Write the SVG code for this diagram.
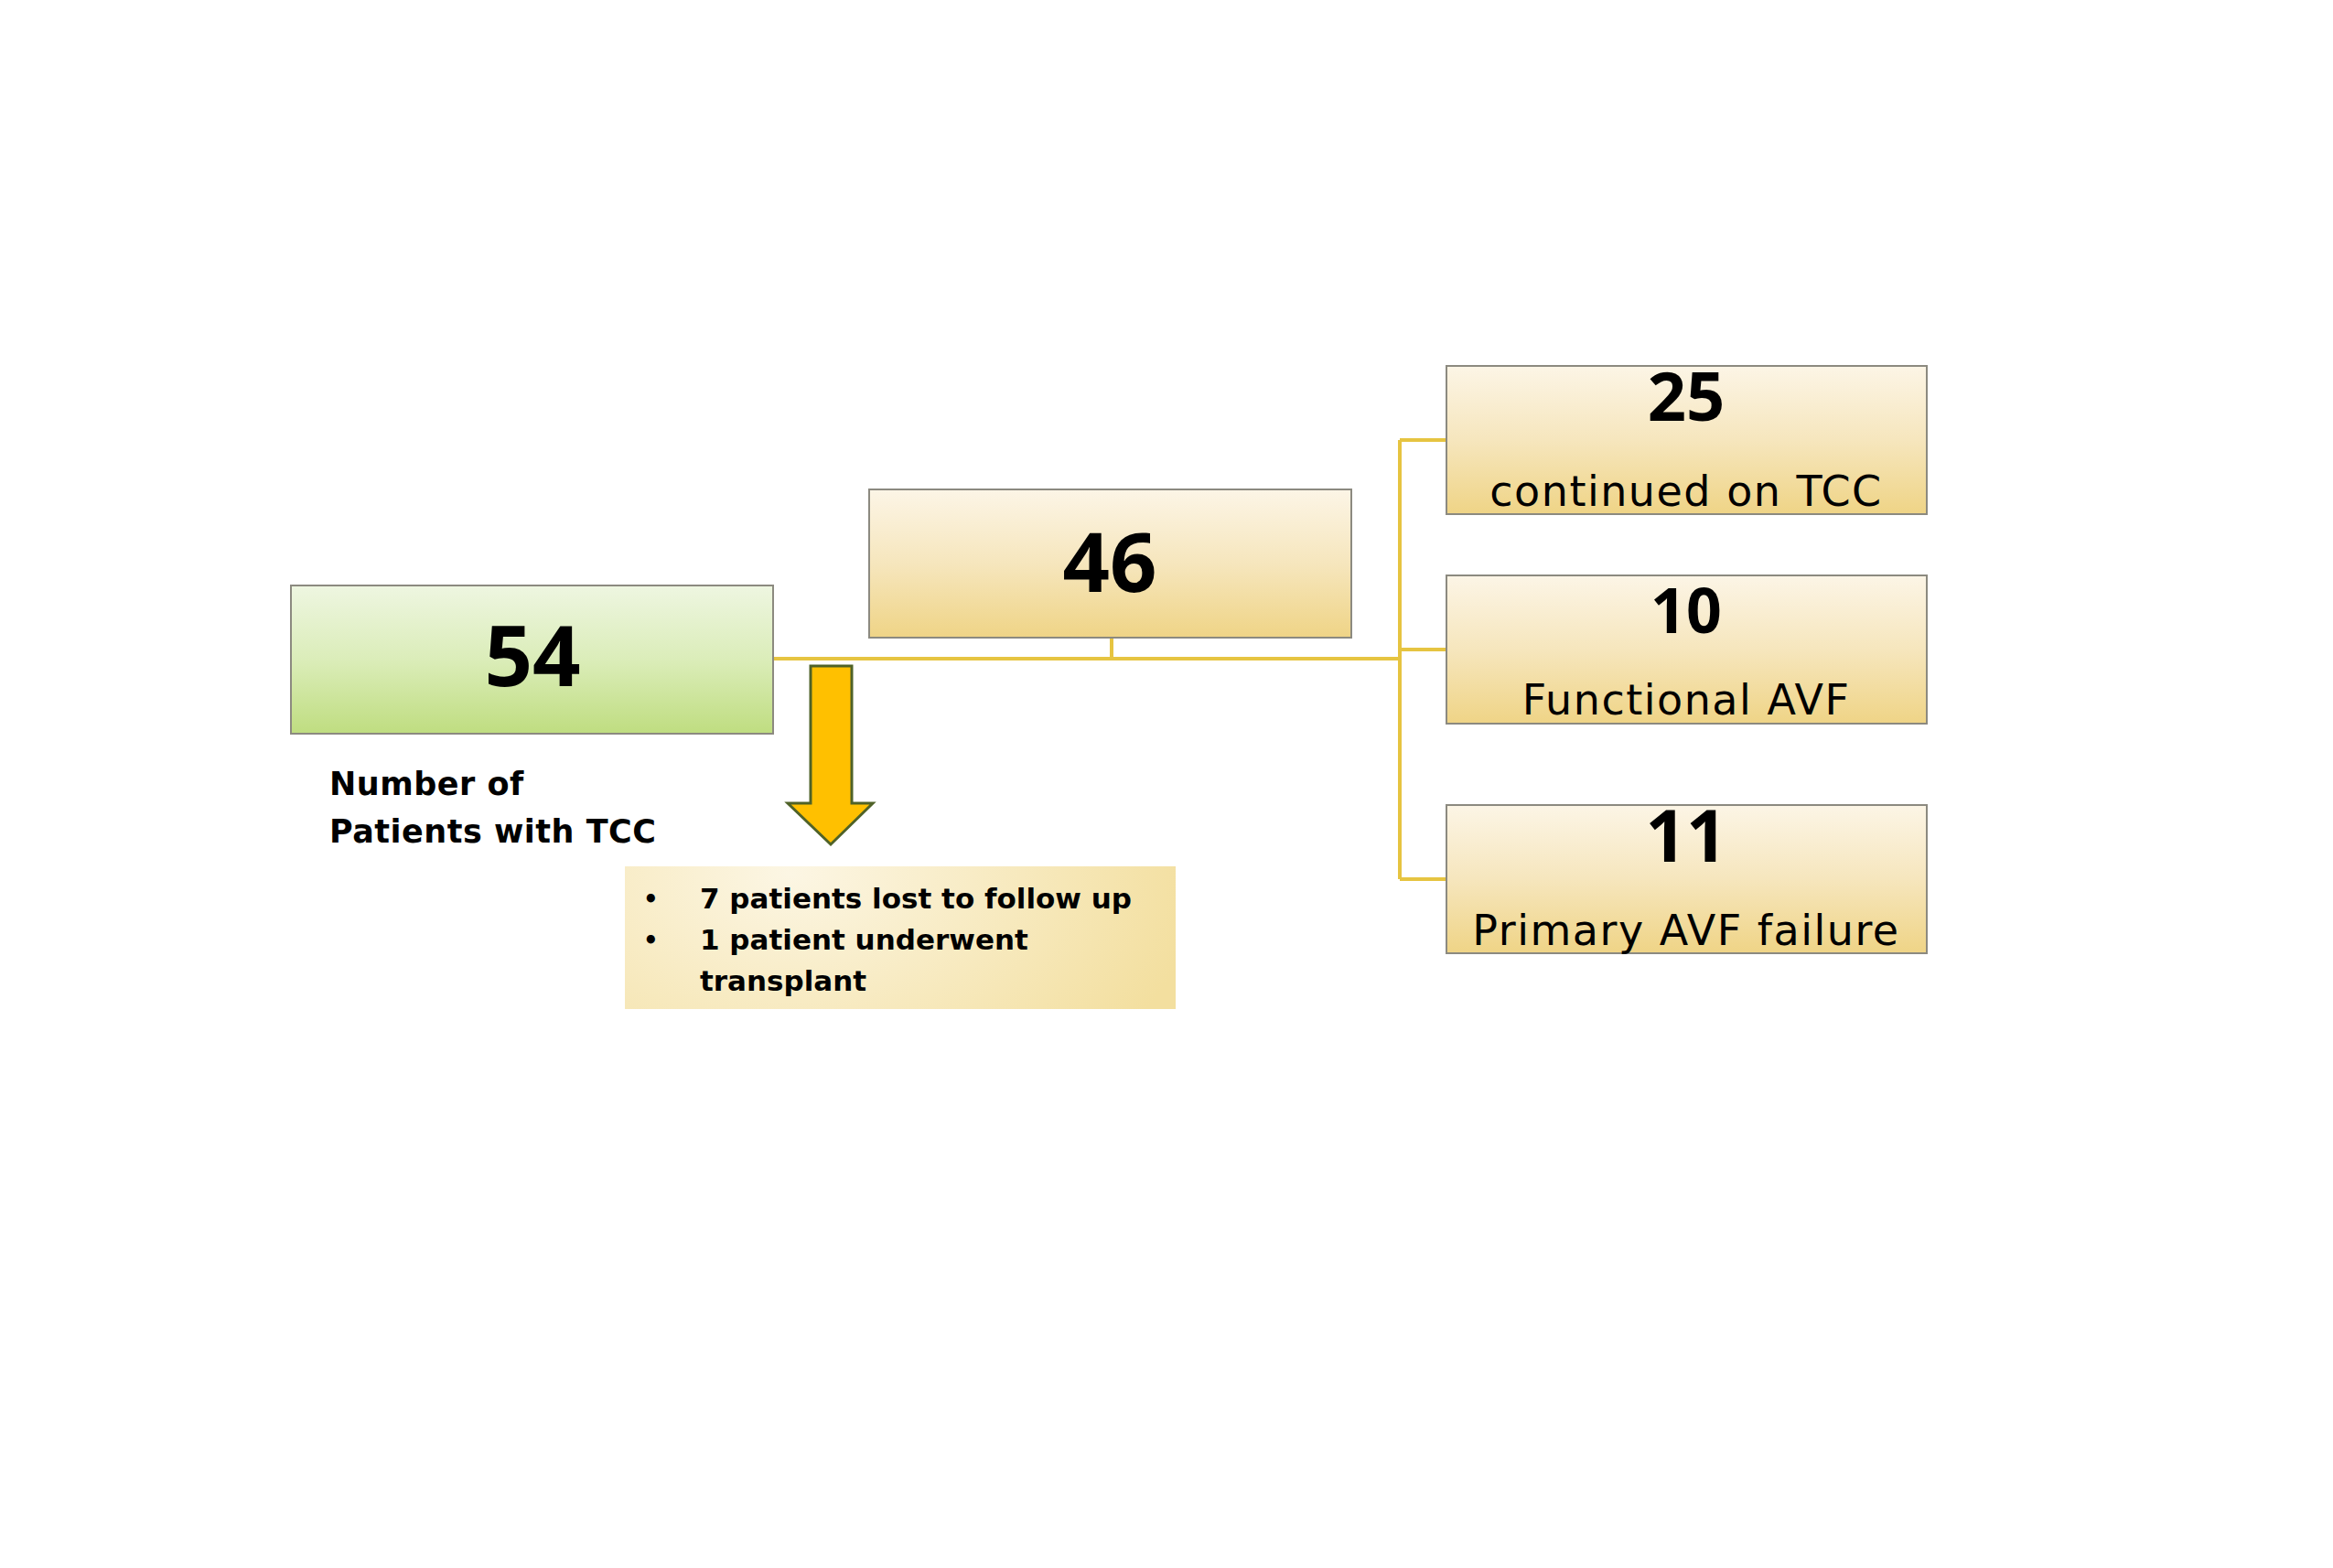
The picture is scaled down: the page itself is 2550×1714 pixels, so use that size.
<svg xmlns="http://www.w3.org/2000/svg" width="2550" height="1714" viewBox="0 0 2550 1714">
<defs>
<linearGradient id="gold" x1="0" y1="0" x2="0" y2="1">
<stop offset="0" stop-color="#fcf5e6"/>
<stop offset="0.5" stop-color="#f6e6bd"/>
<stop offset="1" stop-color="#efd486"/>
</linearGradient>
<linearGradient id="green" x1="0" y1="0" x2="0" y2="1">
<stop offset="0" stop-color="#eef6e1"/>
<stop offset="0.5" stop-color="#dbedb9"/>
<stop offset="1" stop-color="#bfdd80"/>
</linearGradient>
<radialGradient id="note" cx="0.3" cy="0.05" r="0.75" gradientTransform="translate(0.3 0.05) scale(1 2.5) translate(-0.3 -0.05)">
<stop offset="0" stop-color="#fcf6e4"/>
<stop offset="1" stop-color="#f3df9f"/>
</radialGradient>
<style>
.box{stroke:#8c8a80;stroke-width:2}
.conn{stroke:#e6c441;stroke-width:4;fill:none}
.num{font-family:"Noto Sans","DejaVu Sans",sans-serif;font-weight:700;text-anchor:middle;fill:#000}
.lbl{font-family:"DejaVu Sans","Noto Sans",sans-serif;font-size:46px;letter-spacing:1.5px;text-anchor:middle;fill:#000}
.bold{font-family:"DejaVu Sans","Noto Sans",sans-serif;font-weight:700;fill:#000}
</style>
</defs>
<rect width="2550" height="1714" fill="#fff"/>
<g id="connectors">
<path class="conn" d="M845 720 H1530"/>
<path class="conn" d="M1215 697 V720"/>
<path class="conn" d="M1530 481 V961"/>
<path class="conn" d="M1530 481 H1581"/>
<path class="conn" d="M1530 710 H1581"/>
<path class="conn" d="M1530 961 H1581"/>
<polygon id="down-arrow" points="886,728 931,728 931,878 954,878 908,923 861,878 886,878" fill="#ffc000" stroke="#4f6228" stroke-width="3" stroke-linejoin="miter"/>
</g>
<g id="node-54">
<rect class="box" x="318" y="640" width="527" height="162" fill="url(#green)"/>
<text class="num" x="582" y="750" font-size="92">54</text>
</g>
<g id="label-54">
<text class="bold" x="360" y="869" font-size="35" letter-spacing="0.5">Number of</text>
<text class="bold" x="360" y="921" font-size="35" letter-spacing="0.5">Patients with TCC</text>
</g>
<g id="node-46">
<rect class="box" x="950" y="535" width="527" height="162" fill="url(#gold)"/>
<text class="num" x="1213" y="647" font-size="90">46</text>
</g>
<g id="node-25">
<rect class="box" x="1581" y="400" width="525" height="162" fill="url(#gold)"/>
<text class="num" x="1843" y="460" font-size="74">25</text>
<text class="lbl" x="1843" y="553">continued on TCC</text>
</g>
<g id="node-10">
<rect class="box" x="1581" y="629" width="525" height="162" fill="url(#gold)"/>
<text class="num" x="1843" y="692" font-size="68">10</text>
<text class="lbl" x="1843" y="781">Functional AVF</text>
</g>
<g id="node-11">
<rect class="box" x="1581" y="880" width="525" height="162" fill="url(#gold)"/>
<text class="num" x="1843" y="942" font-size="78">11</text>
<text class="lbl" x="1843" y="1033">Primary AVF failure</text>
</g>
<g id="note">
<rect x="683" y="947" width="602" height="156" fill="url(#note)"/>
<text class="bold" x="703" y="992" font-size="26">•</text>
<text class="bold" x="703" y="1037" font-size="26">•</text>
<text class="bold" x="765" y="993" font-size="31">7 patients lost to follow up</text>
<text class="bold" x="765" y="1038" font-size="31">1 patient underwent</text>
<text class="bold" x="765" y="1083" font-size="31">transplant</text>
</g>
</svg>
